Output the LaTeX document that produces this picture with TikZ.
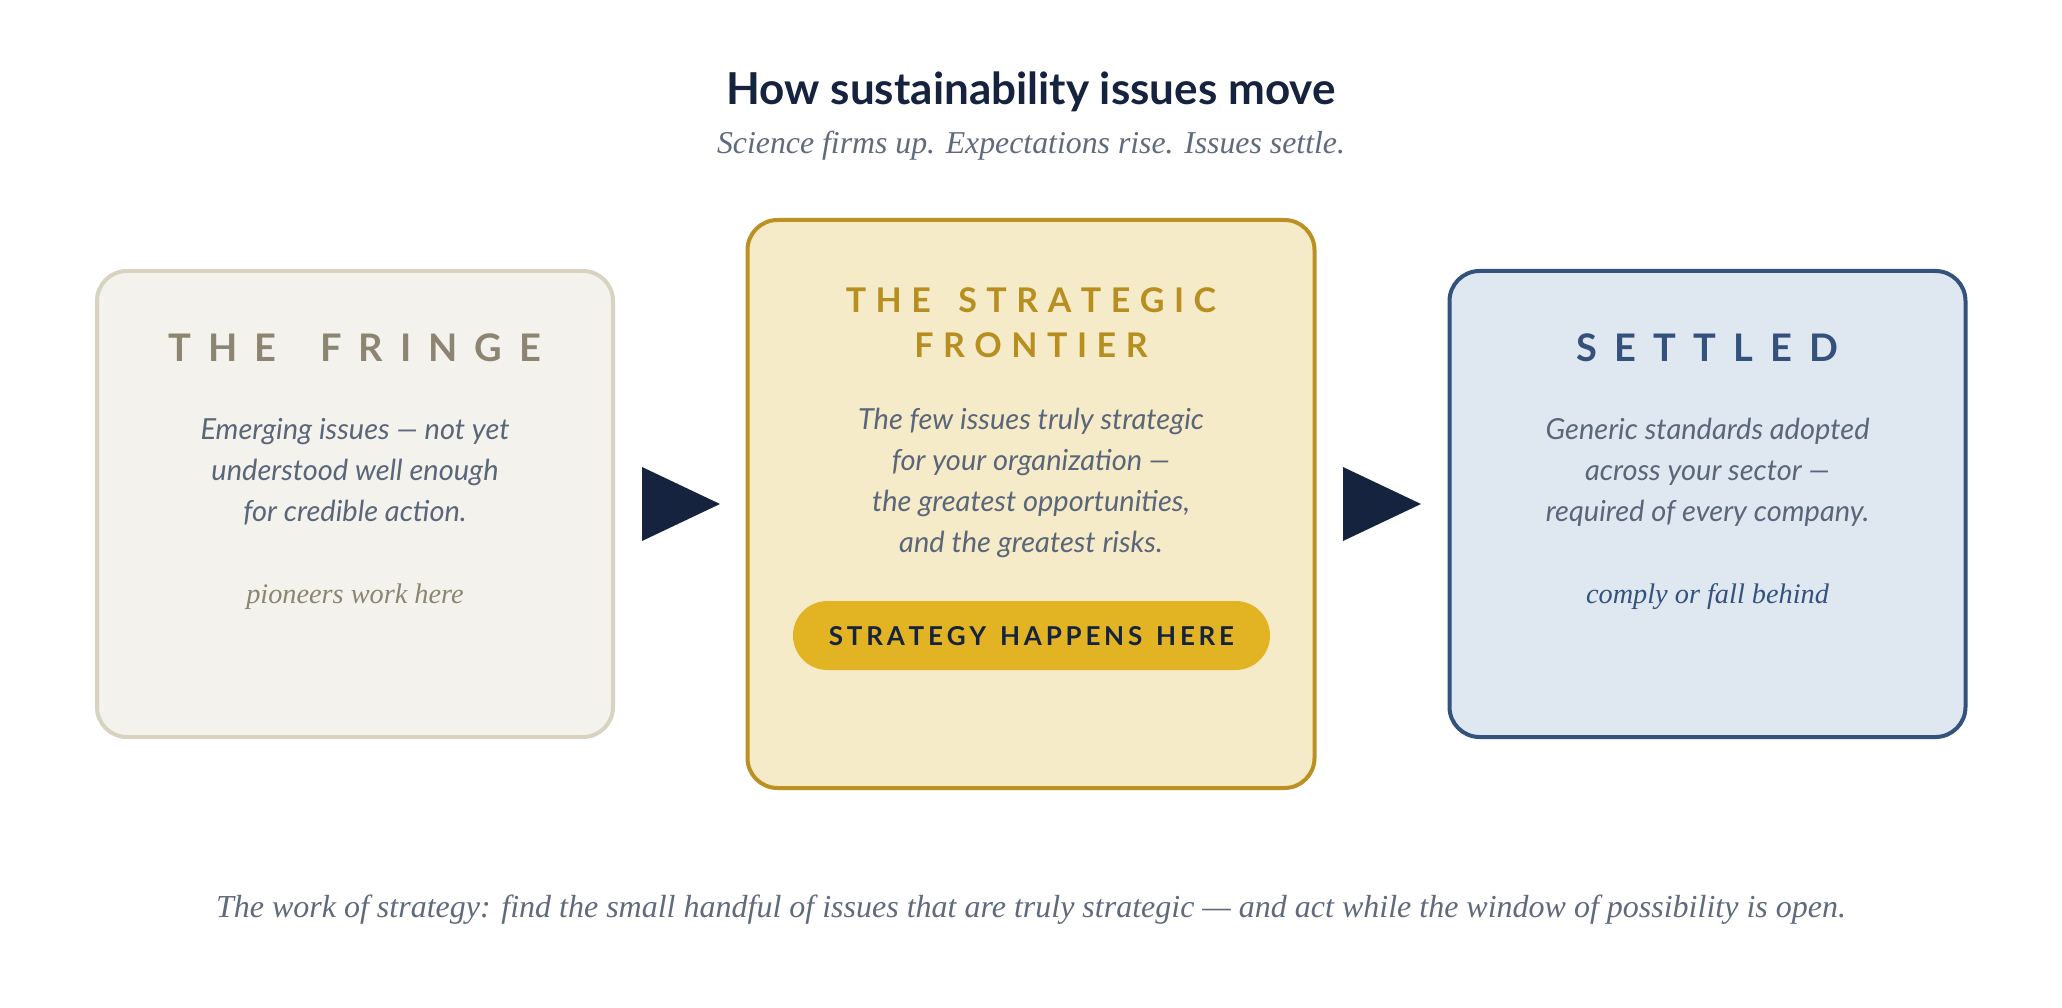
\documentclass[tikz,border=0pt]{standalone}
\usepackage{fontspec}
\setmainfont{Lato}
\newfontfamily\serifit{Liberation Serif}
\definecolor{navy}{HTML}{16233F}
\definecolor{slate}{HTML}{5A6679}
\definecolor{subgray}{HTML}{5F6B7C}
\definecolor{fringefill}{HTML}{F3F2ED}
\definecolor{fringeline}{HTML}{D8D2C0}
\definecolor{fringetext}{HTML}{8B8571}
\definecolor{stratfill}{HTML}{F6EBC9}
\definecolor{stratline}{HTML}{BB9124}
\definecolor{strattext}{HTML}{B78F20}
\definecolor{pillfill}{HTML}{E2B323}
\definecolor{setfill}{HTML}{DFE7F0}
\definecolor{setline}{HTML}{33527D}
\definecolor{settext}{HTML}{34517B}
\ExplSyntaxOn
\NewDocumentCommand\trk{m m}{\tl_map_inline:nn{#2}{##1\kern#1}\kern-#1}
\ExplSyntaxOff
\tikzset{
  stage/.style={draw, line width=4pt, rounded corners=30pt, inner sep=0pt},
  headfont/.style={font=\fontsize{38}{40}\selectfont\bfseries},
  bodytext/.style={font=\fontsize{29}{41}\selectfont\itshape, text=slate, align=center, inner sep=0pt},
  notetext/.style={font=\fontsize{28.3}{30}\selectfont\serifit\itshape, inner sep=0pt, anchor=base},
  arrowtri/.style={fill=navy}
}
\begin{document}
\begin{tikzpicture}[x=1pt,y=-1pt]
\useasboundingbox[fill=white] (0,0) rectangle (2062,1008);
% title
\node[font=\fontsize{44}{48}\selectfont\bfseries, text=navy, anchor=base, inner sep=0pt] (title) at (1031,105) {How sustainability issues move};
\node[font=\fontsize{31.8}{34}\selectfont\serifit\itshape, text=subgray, anchor=base, inner sep=0pt] (subtitle) at (1031,154) {Science firms up. Expectations rise. Issues settle.};
% boxes
\node[stage, fill=fringefill, draw=fringeline, minimum width=516pt, minimum height=466pt] (fringe) at (355,504) {};
\node[stage, fill=stratfill, draw=stratline, minimum width=567pt, minimum height=568pt] (frontier) at (1031,504) {};
\node[stage, fill=setfill, draw=setline, minimum width=516pt, minimum height=466pt] (settled) at (1707.5,504) {};
% arrows
\fill[arrowtri] (642,467) -- (720,504) -- (642,541) -- cycle;
\fill[arrowtri] (1343,467) -- (1421,504) -- (1343,541) -- cycle;
% fringe content
\node[headfont, text=fringetext, anchor=base, inner sep=0pt] (fringehead) at (355,362) {\trk{0.45em}{THE~FRINGE}};
\node[bodytext] (fringebody) at (355,472) {Emerging issues — not yet\\understood well enough\\for credible action.};
\node[notetext, text=fringetext] (fringenote) at (355,603) {pioneers work here};
% frontier content
\node[font=\fontsize{34}{36}\selectfont\bfseries, text=strattext, anchor=base, inner sep=0pt] (fronthead1) at (1031,313) {\trk{0.28em}{THE~STRATEGIC}};
\node[font=\fontsize{34}{36}\selectfont\bfseries, text=strattext, anchor=base, inner sep=0pt] (fronthead2) at (1031,358) {\trk{0.28em}{FRONTIER}};
\node[bodytext] (frontbody) at (1031,483) {The few issues truly strategic\\for your organization —\\the greatest opportunities,\\and the greatest risks.};
\node[fill=pillfill, rounded corners=34.5pt, minimum width=477pt, minimum height=69pt, inner sep=0pt, text height=19pt, text depth=0pt, text=navy, font=\fontsize{26}{28}\selectfont\bfseries] (pill) at (1031.5,635.5) {\trk{0.145em}{STRATEGY~HAPPENS~HERE}};
% settled content
\node[headfont, text=settext, anchor=base, inner sep=0pt] (setthead) at (1707.5,362) {\trk{0.45em}{SETTLED}};
\node[bodytext] (settbody) at (1707.5,472) {Generic standards adopted\\across your sector —\\required of every company.};
\node[notetext, text=setline] (settnote) at (1707.5,603) {comply or fall behind};
% footer
\node[font=\fontsize{32}{36}\selectfont\serifit\itshape, text=subgray, anchor=base, inner sep=0pt] (footer) at (1031,917) {The work of strategy: find the small handful of issues that are truly strategic — and act while the window of possibility is open.};
\end{tikzpicture}
\end{document}
